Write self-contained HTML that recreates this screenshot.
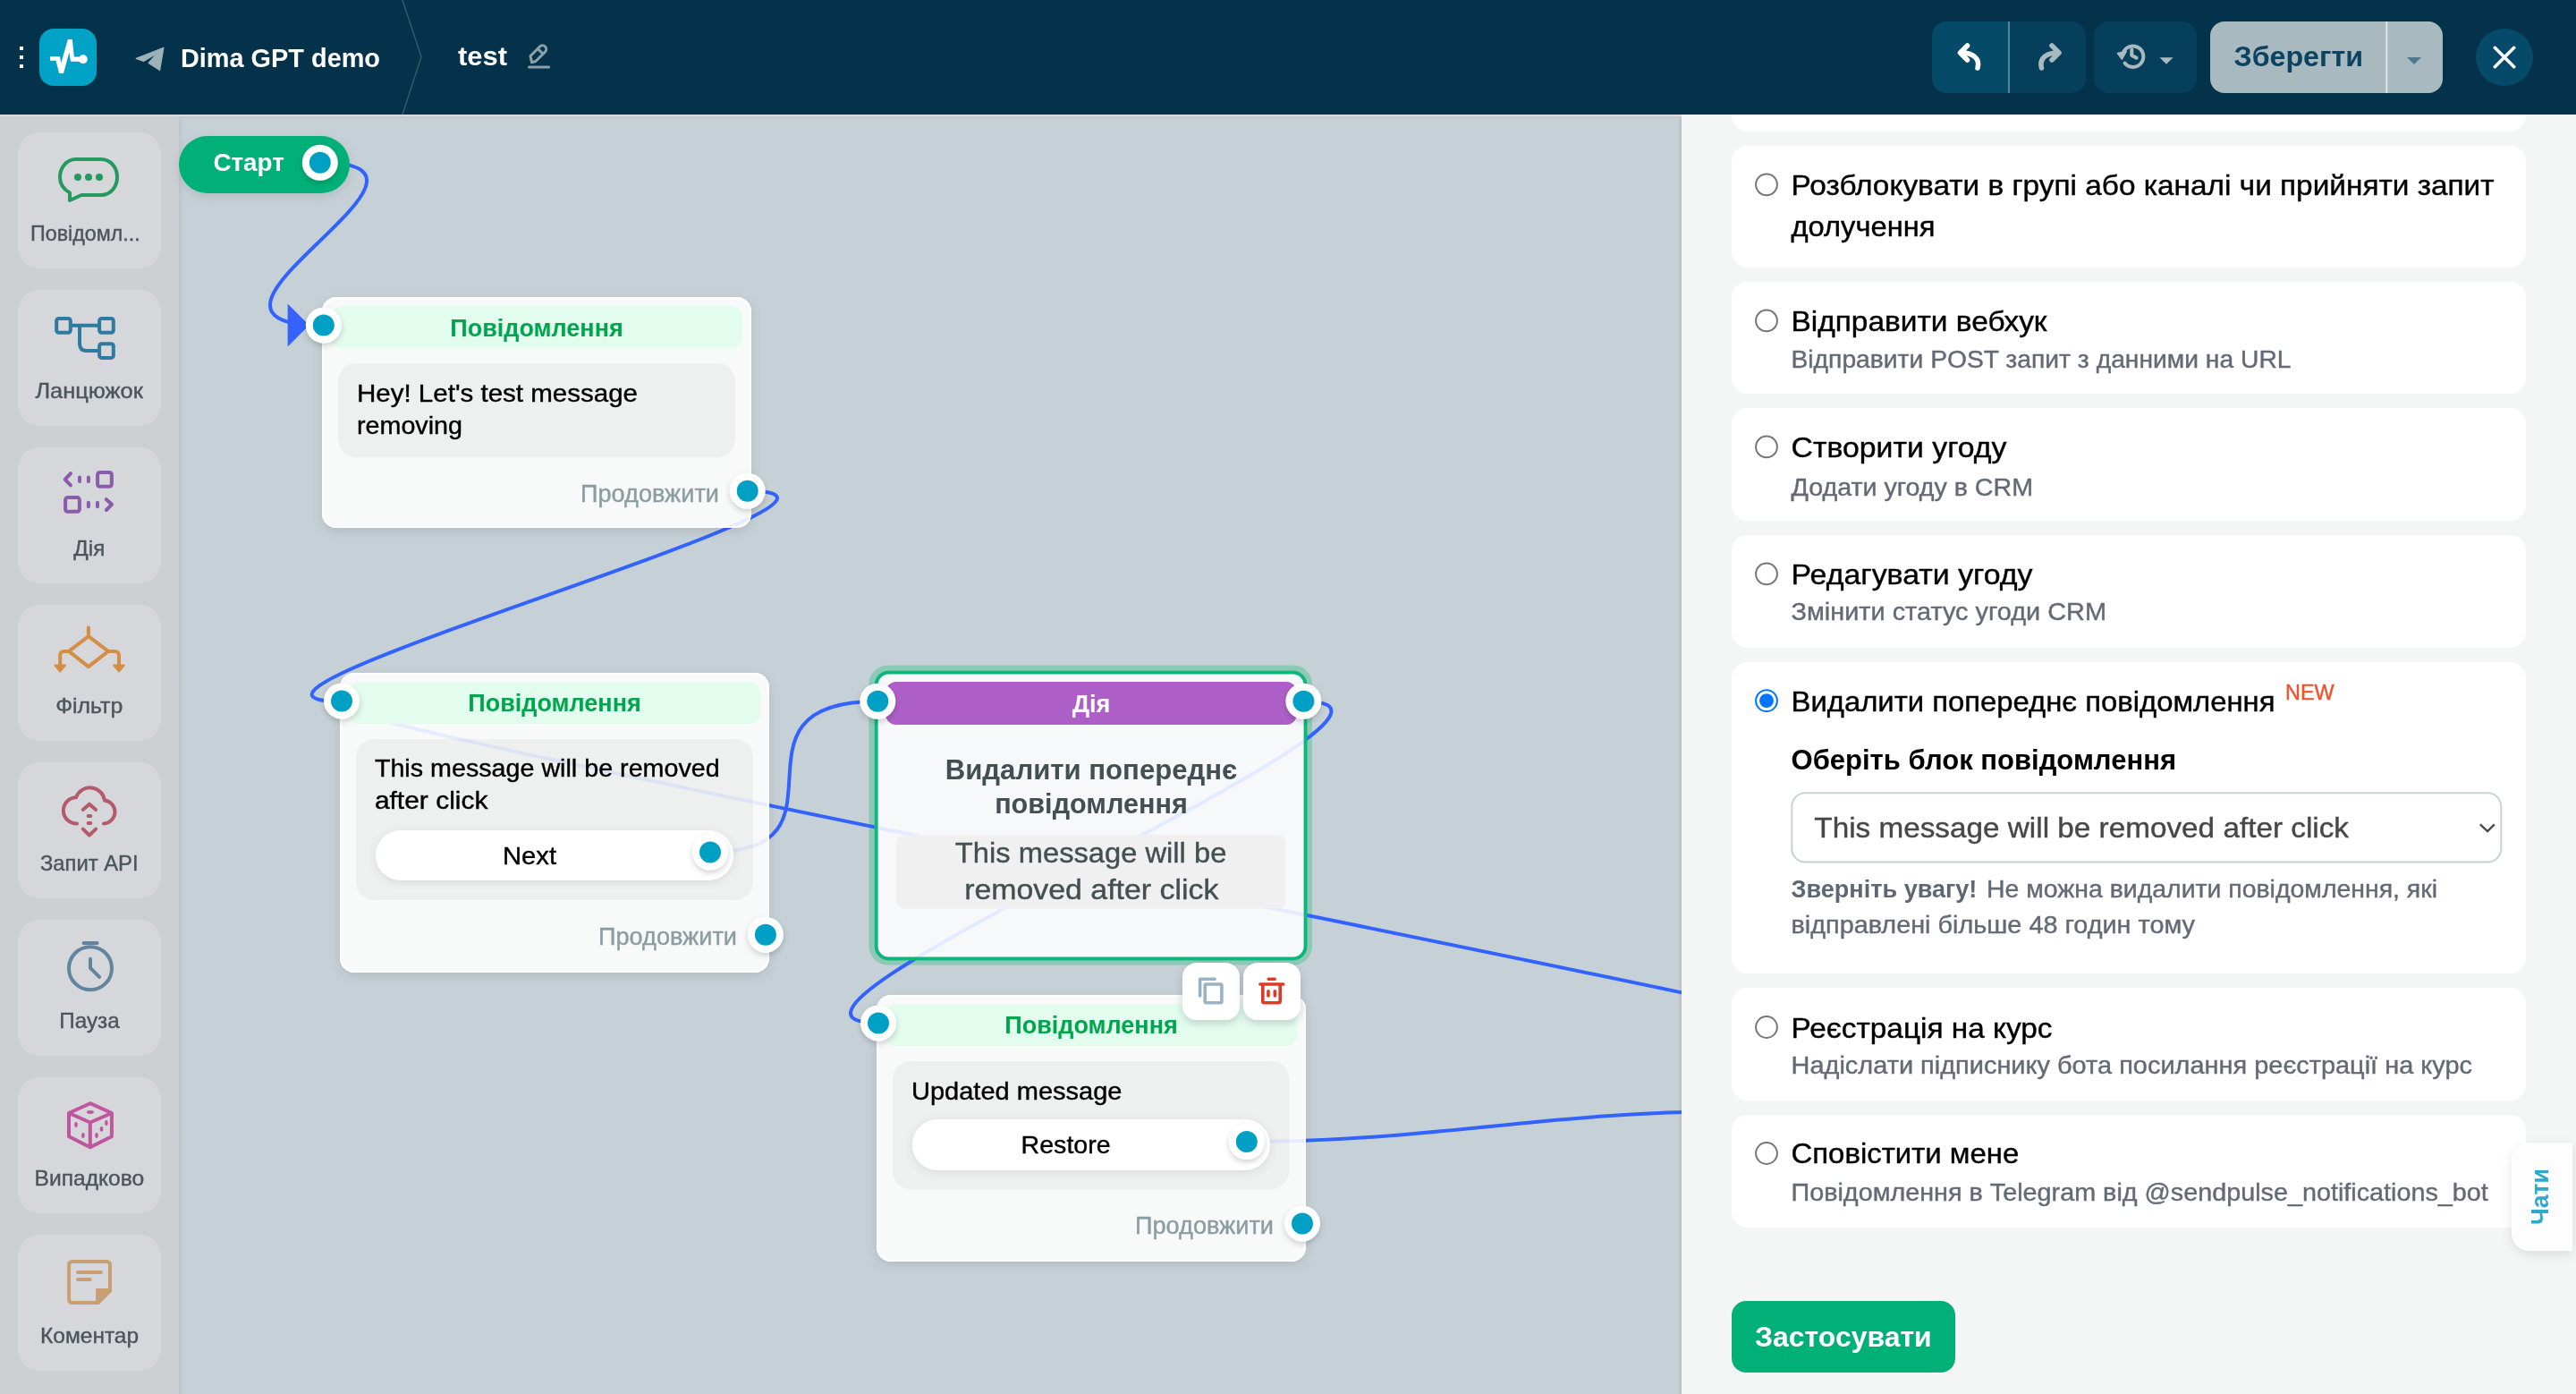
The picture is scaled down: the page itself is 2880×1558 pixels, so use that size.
<!DOCTYPE html><html><head><meta charset="utf-8"><title>Flow</title>
<style>html,body{margin:0;padding:0;width:2880px;height:1558px;overflow:hidden;background:#c6d1d7;}svg{display:block;will-change:transform}text{font-family:"Liberation Sans", sans-serif;}</style></head><body>
<svg width="2880" height="1558" viewBox="0 0 2880 1558">
<defs>
<filter id="sh" x="-20%" y="-20%" width="140%" height="150%"><feDropShadow dx="0" dy="4" stdDeviation="6" flood-color="#000" flood-opacity="0.10"/></filter>
<filter id="shp" x="-50%" y="-50%" width="200%" height="200%"><feDropShadow dx="0" dy="3" stdDeviation="3" flood-color="#000" flood-opacity="0.18"/></filter>
<filter id="shb" x="-30%" y="-30%" width="160%" height="160%"><feDropShadow dx="0" dy="2" stdDeviation="5" flood-color="#000" flood-opacity="0.10"/></filter>
<filter id="shs" x="-20%" y="-20%" width="140%" height="160%"><feDropShadow dx="0" dy="4" stdDeviation="5" flood-color="#000" flood-opacity="0.16"/></filter>
<filter id="blur6" x="-20%" y="-20%" width="140%" height="150%"><feGaussianBlur stdDeviation="6"/></filter>
<filter id="blur4" x="-20%" y="-20%" width="140%" height="150%"><feGaussianBlur stdDeviation="4"/></filter>
<linearGradient id="pls" x1="0" x2="1" y1="0" y2="0"><stop offset="0" stop-color="#000" stop-opacity="0"/><stop offset="1" stop-color="#000" stop-opacity="0.09"/></linearGradient>
<linearGradient id="sbs" x1="0" x2="1" y1="0" y2="0"><stop offset="0" stop-color="#000" stop-opacity="0.05"/><stop offset="1" stop-color="#000" stop-opacity="0"/></linearGradient>
</defs>
<rect x="200" y="128" width="1680" height="1430" fill="#c6d1d7"/>
<rect x="0" y="128" width="200" height="1430" fill="#cdd0d3"/>
<rect x="200" y="128" width="6" height="1430" fill="url(#sbs)"/>
<rect x="1876" y="128" width="4" height="1430" fill="url(#pls)"/>
<rect x="0" y="128" width="1880" height="2" fill="#dcdcde"/>
<rect x="200" y="130" width="1680" height="2" fill="#c9c8cc"/>
<rect x="20" y="148" width="160" height="152" rx="24" fill="#d5d7da"/>
<text x="34" y="269" font-size="24" fill="#4c555b" stroke="#4c555b" stroke-width="0.4" textLength="122.6" lengthAdjust="spacingAndGlyphs">Повідомл...</text>
<rect x="20" y="324" width="160" height="152" rx="24" fill="#d5d7da"/>
<text x="39.4" y="445" font-size="24" fill="#4c555b" stroke="#4c555b" stroke-width="0.4" textLength="120.4" lengthAdjust="spacingAndGlyphs">Ланцюжок</text>
<rect x="20" y="500" width="160" height="152" rx="24" fill="#d5d7da"/>
<text x="82.3" y="621" font-size="24" fill="#4c555b" stroke="#4c555b" stroke-width="0.4" textLength="35" lengthAdjust="spacingAndGlyphs">Дія</text>
<rect x="20" y="676" width="160" height="152" rx="24" fill="#d5d7da"/>
<text x="62.2" y="797" font-size="24" fill="#4c555b" stroke="#4c555b" stroke-width="0.4" textLength="75.1" lengthAdjust="spacingAndGlyphs">Фільтр</text>
<rect x="20" y="852" width="160" height="152" rx="24" fill="#d5d7da"/>
<text x="45" y="973" font-size="24" fill="#4c555b" stroke="#4c555b" stroke-width="0.4" textLength="109.6" lengthAdjust="spacingAndGlyphs">Запит API</text>
<rect x="20" y="1028" width="160" height="152" rx="24" fill="#d5d7da"/>
<text x="66.3" y="1149" font-size="24" fill="#4c555b" stroke="#4c555b" stroke-width="0.4" textLength="67.4" lengthAdjust="spacingAndGlyphs">Пауза</text>
<rect x="20" y="1204" width="160" height="152" rx="24" fill="#d5d7da"/>
<text x="38.5" y="1325" font-size="24" fill="#4c555b" stroke="#4c555b" stroke-width="0.4" textLength="122.8" lengthAdjust="spacingAndGlyphs">Випадково</text>
<rect x="20" y="1380" width="160" height="152" rx="24" fill="#d5d7da"/>
<text x="45.1" y="1501" font-size="24" fill="#4c555b" stroke="#4c555b" stroke-width="0.4" textLength="110" lengthAdjust="spacingAndGlyphs">Коментар</text>
<g fill="none" stroke-width="4" stroke-linecap="round" stroke-linejoin="round">
<g stroke="#25995f"><path d="M84.5,178 H113 C123.5,178 131,187 131,198 C131,209 123.5,218 113,218 H91 L78,224 V215.5 C71,211.5 67,205 67,198 C67,187 75,178 84.5,178 Z"/></g>
<g fill="#25995f"><circle cx="87" cy="198" r="4"/><circle cx="99" cy="198" r="4"/><circle cx="111" cy="198" r="4"/></g>
<g stroke="#2e7aa0"><rect x="63.2" y="356" width="15.6" height="15.8" rx="2.5"/><rect x="111.1" y="356" width="15.7" height="15.8" rx="2.5"/><rect x="111.1" y="384.2" width="15.7" height="15.7" rx="2.5"/><path d="M80.7,363.8 H109.1 M89,363.8 V384 Q89,392 97,392 H109.1"/></g>
<g stroke="#8a5ca9"><path d="M79,529.2 L72.7,535.8 L79,542.4 M89,533.5 V538.1 M98.9,533.5 V538.1 M98.9,561.7 V566.3 M109,561.7 V566.3 M118.9,558.2 L125.1,563.7 L118.9,570"/><rect x="109.1" y="528" width="15.7" height="15.7" rx="2.5"/><rect x="73.1" y="556.1" width="15.8" height="15.7" rx="2.5"/></g>
<g stroke="#d48e45"><path d="M98.9,701.5 V711.2 M98.9,711.2 L77,727.9 L98.9,745.1 L121,727.9 Z M77,727.9 H72 Q67.2,727.9 67.2,733 V743 M121,727.9 H128 Q133,727.9 133,733 V743"/></g>
<g fill="#d48e45" stroke="#d48e45" stroke-width="2"><path d="M61.5,743.5 H73 L67.2,750.5 Z"/><path d="M127.2,743.5 H138.8 L133,750.5 Z"/></g>
<g stroke="#b45a6a"><path d="M86,920.5 A14.5,14.5 0 0 1 85,891.2 A16.6,16.6 0 0 1 117,894.6 A13,13 0 0 1 116,920.5"/><path d="M92.8,905 L99.9,898.7 L107.1,905 M92.8,926.6 L99.9,933.5 L107.1,926.6 M98.6,912 H101.3 M98.6,920 H101.3"/></g>
<g stroke="#62849e"><circle cx="101" cy="1082.2" r="24"/><path d="M93.5,1053.9 H108.6 M101,1071.7 V1081.8 L111.1,1091.8"/></g>
<g stroke="#c2559f"><path d="M100.8,1233.2 L77,1244 V1270.2 L100.8,1282.3 L124.9,1270.2 V1244 Z M77,1244 L100.8,1254.5 L124.9,1244 M100.8,1254.5 V1282.3"/></g>
<g fill="#c2559f"><ellipse cx="100.9" cy="1243" rx="4" ry="1.9"/><ellipse cx="85" cy="1256.9" rx="1.8" ry="2.9"/><ellipse cx="92.9" cy="1269" rx="1.8" ry="2.9"/><ellipse cx="118.9" cy="1255" rx="1.8" ry="2.9"/><ellipse cx="113.5" cy="1261.8" rx="1.8" ry="2.9"/><ellipse cx="108" cy="1269" rx="1.8" ry="2.9"/></g>
<g stroke="#c99f71"><path d="M81,1409.9 H119 Q123,1409.9 123,1413.9 V1442.5 L109,1456 H81 Q77.1,1456 77.1,1452 V1413.9 Q77.1,1409.9 81,1409.9 Z M87,1422 H112.9 M87,1430 H100.8"/></g>
<path d="M107.1,1440 H124.9 V1443.5 L110.5,1457.9 H107.1 Z" fill="#c99f71"/>
</g>
<path fill-rule="evenodd" fill="#8ccab6" d="M992.5,743.5 H1446 A21,21 0 0 1 1467,764.5 V1057.5 A21,21 0 0 1 1446,1078.5 H992.5 A21,21 0 0 1 971.5,1057.5 V764.5 A21,21 0 0 1 992.5,743.5 Z M993.5,749.5 A16,16 0 0 0 977.5,765.5 V1057.5 A16,16 0 0 0 993.5,1073.5 H1445.8 A16,16 0 0 0 1461.8,1057.5 V765.5 A16,16 0 0 0 1445.8,749.5 Z"/>
<g fill="none" stroke="#3363ff" stroke-width="4"><path d="M357.8,181.8 C542.8,181.8 161.8,363.5 361.8,363.5"/><path d="M835.7,548.7 C1047.7,548.7 170,784 382,784"/><path d="M794,952.5 C965,952.5 796.7,783.7 981.3,783.7"/><path d="M2212.6,1195.7 C2412.6,1195.7 182,783.4 382,783.4"/><path d="M1457.4,783.7 C1662.4,783.7 777,1143.4 982,1143.4"/><path d="M1393.8,1276 C1593.8,1276 1732.7,1242.3 1932.7,1242.3"/></g>
<path d="M321.6,339.5 L321.6,387.5 L345.6,363.5 Z" fill="#3663ff"/>
<rect x="200" y="152" width="191" height="64" rx="32" fill="#00b077" filter="url(#sh)"/>
<text x="238.4" y="191.1" font-size="28" fill="#fff" font-weight="bold" textLength="79.4" lengthAdjust="spacingAndGlyphs">Старт</text>
<circle cx="357.8" cy="181.8" r="20" fill="#fff" filter="url(#shp)"/>
<circle cx="357.8" cy="181.8" r="12" fill="#00a0c4"/>
<mask id="m1" maskUnits="userSpaceOnUse" x="0" y="0" width="2880" height="1558"><rect width="2880" height="1558" fill="#fff"/><rect x="360" y="332" width="480" height="258" rx="16" fill="#000"/></mask>
<g mask="url(#m1)"><rect x="360" y="336" width="480" height="258" rx="16" fill="#000" fill-opacity="0.1" filter="url(#blur6)"/></g>
<rect x="360" y="332" width="480" height="258" rx="16" fill="rgb(255,255,254)" fill-opacity="0.88"/>
<rect x="361" y="333" width="478" height="256" rx="15" fill="none" stroke="#fff" stroke-width="2"/>
<rect x="370" y="342" width="460" height="47" rx="12" fill="#e2fcee"/>
<text x="600" y="375.5" font-size="28" fill="#00a64e" font-weight="bold" text-anchor="middle" textLength="193.5" lengthAdjust="spacingAndGlyphs">Повідомлення</text>
<rect x="378" y="406" width="444" height="105" rx="20" fill="#000" fill-opacity="0.04"/>
<text x="399" y="448.6" font-size="28" fill="#000" stroke="#000" stroke-width="0.4" textLength="314" lengthAdjust="spacingAndGlyphs">Hey! Let's test message</text>
<text x="399" y="484.7" font-size="28" fill="#000" stroke="#000" stroke-width="0.4" textLength="118" lengthAdjust="spacingAndGlyphs">removing</text>
<text x="649" y="560.5" font-size="27" fill="#8b9da1" stroke="#8b9da1" stroke-width="0.4" textLength="155" lengthAdjust="spacingAndGlyphs">Продовжити</text>
<circle cx="361.8" cy="363.6" r="20" fill="#fff" filter="url(#shp)"/>
<circle cx="361.8" cy="363.6" r="12" fill="#00a0c4"/>
<circle cx="835.7" cy="548.7" r="20" fill="#fff" filter="url(#shp)"/>
<circle cx="835.7" cy="548.7" r="12" fill="#00a0c4"/>
<mask id="m2" maskUnits="userSpaceOnUse" x="0" y="0" width="2880" height="1558"><rect width="2880" height="1558" fill="#fff"/><rect x="380" y="752" width="480" height="335" rx="16" fill="#000"/></mask>
<g mask="url(#m2)"><rect x="380" y="756" width="480" height="335" rx="16" fill="#000" fill-opacity="0.1" filter="url(#blur6)"/></g>
<rect x="380" y="752" width="480" height="335" rx="16" fill="rgb(255,255,254)" fill-opacity="0.88"/>
<rect x="381" y="753" width="478" height="333" rx="15" fill="none" stroke="#fff" stroke-width="2"/>
<rect x="390" y="762" width="460" height="47" rx="12" fill="#e2fcee"/>
<text x="620" y="794.8" font-size="28" fill="#00a64e" font-weight="bold" text-anchor="middle" textLength="193.5" lengthAdjust="spacingAndGlyphs">Повідомлення</text>
<rect x="398" y="826" width="444" height="180" rx="20" fill="#000" fill-opacity="0.04"/>
<text x="418.9" y="868.4" font-size="28" fill="#000" stroke="#000" stroke-width="0.4" textLength="385.8" lengthAdjust="spacingAndGlyphs">This message will be removed</text>
<text x="418.9" y="904" font-size="28" fill="#000" stroke="#000" stroke-width="0.4" textLength="126.5" lengthAdjust="spacingAndGlyphs">after click</text>
<rect x="420" y="928" width="400" height="56" rx="28" fill="#fff" filter="url(#shb)"/>
<text x="562" y="966" font-size="28" fill="#000" stroke="#000" stroke-width="0.4" textLength="60" lengthAdjust="spacingAndGlyphs">Next</text>
<text x="669" y="1055.6" font-size="27" fill="#8b9da1" stroke="#8b9da1" stroke-width="0.4" textLength="155" lengthAdjust="spacingAndGlyphs">Продовжити</text>
<circle cx="794" cy="952.5" r="20" fill="#fff" filter="url(#shp)"/>
<circle cx="794" cy="952.5" r="12" fill="#00a0c4"/>
<circle cx="382" cy="783.4" r="20" fill="#fff" filter="url(#shp)"/>
<circle cx="382" cy="783.4" r="12" fill="#00a0c4"/>
<circle cx="855.9" cy="1044.7" r="20" fill="#fff" filter="url(#shp)"/>
<circle cx="855.9" cy="1044.7" r="12" fill="#00a0c4"/>
<rect x="979.6" y="751.5" width="480" height="320" rx="14" fill="#fdfdff" fill-opacity="0.88" stroke="#10b57c" stroke-width="4"/>
<rect x="990" y="762" width="460" height="48" rx="12" fill="#ad5fc7"/>
<text x="1220" y="795.9" font-size="27" fill="#fff" font-weight="bold" text-anchor="middle" textLength="42.7" lengthAdjust="spacingAndGlyphs">Дія</text>
<text x="1220" y="870.8" font-size="32" fill="#435052" font-weight="bold" text-anchor="middle" textLength="326.5" lengthAdjust="spacingAndGlyphs">Видалити попереднє</text>
<text x="1220" y="908.8" font-size="32" fill="#435052" font-weight="bold" text-anchor="middle" textLength="215.7" lengthAdjust="spacingAndGlyphs">повідомлення</text>
<rect x="1002" y="933.3" width="435.3" height="82.2" rx="8" fill="#f0f0f0"/>
<text x="1219.6" y="963.8" font-size="32" fill="#434f50" stroke="#434f50" stroke-width="0.4" text-anchor="middle" textLength="303.5" lengthAdjust="spacingAndGlyphs">This message will be</text>
<text x="1220.3" y="1005" font-size="32" fill="#434f50" stroke="#434f50" stroke-width="0.4" text-anchor="middle" textLength="284.2" lengthAdjust="spacingAndGlyphs">removed after click</text>
<circle cx="981.3" cy="783.7" r="20" fill="#fff" filter="url(#shp)"/>
<circle cx="981.3" cy="783.7" r="12" fill="#00a0c4"/>
<circle cx="1457.4" cy="783.7" r="20" fill="#fff" filter="url(#shp)"/>
<circle cx="1457.4" cy="783.7" r="12" fill="#00a0c4"/>
<mask id="m3" maskUnits="userSpaceOnUse" x="0" y="0" width="2880" height="1558"><rect width="2880" height="1558" fill="#fff"/><rect x="980" y="1112" width="480" height="298" rx="16" fill="#000"/></mask>
<g mask="url(#m3)"><rect x="980" y="1116" width="480" height="298" rx="16" fill="#000" fill-opacity="0.1" filter="url(#blur6)"/></g>
<rect x="980" y="1112" width="480" height="298" rx="16" fill="rgb(255,255,254)" fill-opacity="0.88"/>
<rect x="981" y="1113" width="478" height="296" rx="15" fill="none" stroke="#fff" stroke-width="2"/>
<rect x="990" y="1122" width="460" height="47" rx="12" fill="#e2fcee"/>
<text x="1220" y="1155" font-size="28" fill="#00a64e" font-weight="bold" text-anchor="middle" textLength="193.5" lengthAdjust="spacingAndGlyphs">Повідомлення</text>
<rect x="998" y="1186" width="443.3" height="143.2" rx="20" fill="#000" fill-opacity="0.04"/>
<text x="1019" y="1228.7" font-size="28" fill="#000" stroke="#000" stroke-width="0.4" textLength="235.5" lengthAdjust="spacingAndGlyphs">Updated message</text>
<rect x="1020" y="1251" width="400" height="57" rx="28.5" fill="#fff" filter="url(#shb)"/>
<text x="1141.6" y="1288.6" font-size="28" fill="#000" stroke="#000" stroke-width="0.4" textLength="100" lengthAdjust="spacingAndGlyphs">Restore</text>
<text x="1269" y="1379" font-size="27" fill="#8b9da1" stroke="#8b9da1" stroke-width="0.4" textLength="155" lengthAdjust="spacingAndGlyphs">Продовжити</text>
<circle cx="1393.8" cy="1276" r="20" fill="#fff" filter="url(#shp)"/>
<circle cx="1393.8" cy="1276" r="12" fill="#00a0c4"/>
<circle cx="982" cy="1143.4" r="20" fill="#fff" filter="url(#shp)"/>
<circle cx="982" cy="1143.4" r="12" fill="#00a0c4"/>
<circle cx="1456" cy="1367.4" r="20" fill="#fff" filter="url(#shp)"/>
<circle cx="1456" cy="1367.4" r="12" fill="#00a0c4"/>
<rect x="1322" y="1076" width="64" height="64" rx="16" fill="#fff" filter="url(#shs)"/>
<rect x="1390" y="1076" width="64" height="64" rx="16" fill="#fff" filter="url(#shs)"/>
<g fill="none" stroke-width="3.6" stroke-linecap="round" stroke-linejoin="round"><path stroke="#9ab2c4" d="M1341.6,1113 V1094.3 H1358.2"/><rect stroke="#9ab2c4" x="1347.2" y="1100" width="18.7" height="20.7" rx="1.5"/><path stroke="#e23a22" d="M1418.2,1094.3 H1425.2 M1408.9,1100 H1434.7 M1411.8,1100 V1119 Q1411.8,1120.8 1413.6,1120.8 H1429.4 Q1431.2,1120.8 1431.2,1119 V1100 M1418,1107.9 V1113 M1425.3,1107.9 V1113"/></g>
<rect x="1880" y="128" width="1000" height="1430" fill="#f4f6f5"/>
<rect x="1936" y="90" width="888" height="57" rx="18" fill="#fff"/>
<rect x="1936" y="163" width="888" height="136" rx="18" fill="#fff"/>
<circle cx="1975" cy="206.3" r="11.9" fill="#fff" stroke="#767676" stroke-width="2"/>
<text x="2002.5" y="217.9" font-size="32" fill="#000" stroke="#000" stroke-width="0.4" textLength="786" lengthAdjust="spacingAndGlyphs">Розблокувати в групі або каналі чи прийняти запит</text>
<text x="2002.5" y="263.9" font-size="32" fill="#000" stroke="#000" stroke-width="0.4" textLength="161" lengthAdjust="spacingAndGlyphs">долучення</text>
<rect x="1936" y="315" width="888" height="125" rx="18" fill="#fff"/>
<circle cx="1975" cy="358.4" r="11.9" fill="#fff" stroke="#767676" stroke-width="2"/>
<text x="2002.5" y="369.5" font-size="32" fill="#000" stroke="#000" stroke-width="0.4" textLength="286" lengthAdjust="spacingAndGlyphs">Відправити вебхук</text>
<text x="2002.5" y="411" font-size="28" fill="#646a75" stroke="#646a75" stroke-width="0.4" textLength="559" lengthAdjust="spacingAndGlyphs">Відправити POST запит з данними на URL</text>
<rect x="1936" y="456" width="888" height="126" rx="18" fill="#fff"/>
<circle cx="1975" cy="499.4" r="11.9" fill="#fff" stroke="#767676" stroke-width="2"/>
<text x="2002.5" y="511.3" font-size="32" fill="#000" stroke="#000" stroke-width="0.4" textLength="241" lengthAdjust="spacingAndGlyphs">Створити угоду</text>
<text x="2002.5" y="553.6" font-size="28" fill="#646a75" stroke="#646a75" stroke-width="0.4" textLength="270.5" lengthAdjust="spacingAndGlyphs">Додати угоду в CRM</text>
<rect x="1936" y="598" width="888" height="126" rx="18" fill="#fff"/>
<circle cx="1975" cy="641.4" r="11.9" fill="#fff" stroke="#767676" stroke-width="2"/>
<text x="2002.5" y="653.4" font-size="32" fill="#000" stroke="#000" stroke-width="0.4" textLength="270" lengthAdjust="spacingAndGlyphs">Редагувати угоду</text>
<text x="2002.5" y="693.4" font-size="28" fill="#646a75" stroke="#646a75" stroke-width="0.4" textLength="352.5" lengthAdjust="spacingAndGlyphs">Змінити статус угоди CRM</text>
<rect x="1936" y="740" width="888" height="348" rx="18" fill="#fff"/>
<circle cx="1975" cy="783.2" r="11.9" fill="#fff" stroke="#0075ff" stroke-width="2"/>
<circle cx="1975" cy="783.2" r="7.9" fill="#0075ff"/>
<text x="2002.5" y="795.2" font-size="32" fill="#000" stroke="#000" stroke-width="0.4" textLength="541" lengthAdjust="spacingAndGlyphs">Видалити попереднє повідомлення</text>
<text x="2555" y="782" font-size="23" fill="#f0532b" stroke="#f0532b" stroke-width="0.4" textLength="54.6" lengthAdjust="spacingAndGlyphs">NEW</text>
<text x="2002.5" y="859.8" font-size="31" fill="#000" font-weight="bold" textLength="430.5" lengthAdjust="spacingAndGlyphs">Оберіть блок повідомлення</text>
<rect x="2003.3" y="886.3" width="793" height="77.2" rx="15" fill="#fff" stroke="#cad3d2" stroke-width="2"/>
<text x="2028.3" y="935.8" font-size="32" fill="#474747" stroke="#474747" stroke-width="0.4" textLength="597.7" lengthAdjust="spacingAndGlyphs">This message will be removed after click</text>
<path d="M2772.9,921.3 L2781,929.1 L2788.8,921.3" fill="none" stroke="#4a4a4a" stroke-width="2.4"/>
<text x="2002.5" y="1003" font-size="28" fill="#5f6872" font-weight="bold" textLength="207.9" lengthAdjust="spacingAndGlyphs">Зверніть увагу!</text>
<text x="2221" y="1003" font-size="28" fill="#646a75" stroke="#646a75" stroke-width="0.4" textLength="504" lengthAdjust="spacingAndGlyphs">Не можна видалити повідомлення, які</text>
<text x="2002.5" y="1042.7" font-size="28" fill="#646a75" stroke="#646a75" stroke-width="0.4" textLength="451.5" lengthAdjust="spacingAndGlyphs">відправлені більше 48 годин тому</text>
<rect x="1936" y="1104" width="888" height="126" rx="18" fill="#fff"/>
<circle cx="1975" cy="1148" r="11.9" fill="#fff" stroke="#767676" stroke-width="2"/>
<text x="2002.5" y="1160.4" font-size="32" fill="#000" stroke="#000" stroke-width="0.4" textLength="292" lengthAdjust="spacingAndGlyphs">Реєстрація на курс</text>
<text x="2002.5" y="1200" font-size="28" fill="#646a75" stroke="#646a75" stroke-width="0.4" textLength="761.5" lengthAdjust="spacingAndGlyphs">Надіслати підписнику бота посилання реєстрації на курс</text>
<rect x="1936" y="1246" width="888" height="126" rx="18" fill="#fff"/>
<circle cx="1975" cy="1289" r="11.9" fill="#fff" stroke="#767676" stroke-width="2"/>
<text x="2002.5" y="1300" font-size="32" fill="#000" stroke="#000" stroke-width="0.4" textLength="254.7" lengthAdjust="spacingAndGlyphs">Сповістити мене</text>
<text x="2002.5" y="1342" font-size="28" fill="#646a75" stroke="#646a75" stroke-width="0.4" textLength="779.3" lengthAdjust="spacingAndGlyphs">Повідомлення в Telegram від @sendpulse_notifications_bot</text>
<path d="M2828,1277 H2876 V1398 H2828 A20,20 0 0 1 2808,1378 V1297 A20,20 0 0 1 2828,1277 Z" fill="#fdfdfd" filter="url(#sh)"/>
<text transform="translate(2849,1369) rotate(-90)" x="0" y="0" font-size="27" font-weight="bold" fill="#2ea9cc" textLength="63" lengthAdjust="spacingAndGlyphs">Чати</text>
<rect x="1936" y="1454" width="250" height="80" rx="16" fill="#00b077"/>
<text x="1962" y="1504.5" font-size="32" fill="#fff" font-weight="bold" textLength="197.7" lengthAdjust="spacingAndGlyphs">Застосувати</text>
<rect x="0" y="0" width="2880" height="128" fill="#04324a"/>
<g fill="#fff"><rect x="22" y="52" width="4" height="4"/><rect x="22" y="62" width="4" height="4"/><rect x="22" y="72" width="4" height="4"/></g>
<rect x="44" y="32" width="64" height="64" rx="16" fill="#00a2c5"/>
<polygon fill="#fff" points="56.0,63.1 66.9,63.1 68.3,70.4 75.9,44.0 80.8,44.0 82.9,63.6 89.1,63.6 89.1,68.8 79.0,68.8 77.4,58.5 71.0,82.0 66.1,82.0 62.5,67.8 56.0,67.8"/>
<circle cx="92.9" cy="66.2" r="4.9" fill="#fff"/>
<path d="M152.2,65.4 L182.9,53.3 L178.6,78.6 L166.1,70.4 L175.7,59.4 L160.5,68.5 Z" fill="#9db1b9" stroke="#9db1b9" stroke-width="1.2" stroke-linejoin="round"/>
<text x="202" y="75" font-size="29.5" fill="#fff" font-weight="bold" textLength="223" lengthAdjust="spacingAndGlyphs">Dima GPT demo</text>
<path d="M450,0 L471,63.5 L450,128" fill="none" stroke="#34576a" stroke-width="1.5"/>
<text x="512" y="73" font-size="30" fill="#fff" font-weight="bold" textLength="55" lengthAdjust="spacingAndGlyphs">test</text>
<g fill="none" stroke="#8aa0ab" stroke-width="3" stroke-linecap="round" stroke-linejoin="round"><path d="M594.5,69.8 L593,62.6 L603.6,52 A4.1,4.1 0 0 1 609.5,57.9 L598.9,68.5 Z M601.2,54.4 L607.1,60.3"/><path d="M591.5,75 H613.6"/></g>
<rect x="2160" y="24" width="172" height="80" rx="16" fill="#053f5b"/>
<path d="M2246,24 H2176 A16,16 0 0 0 2160,40 V88 A16,16 0 0 0 2176,104 H2246 Z" fill="#054b69"/>
<rect x="2245.2" y="24" width="1.6" height="80" fill="#6a95a7"/>
<g fill="none" stroke-width="5.5" stroke-linecap="round" stroke-linejoin="round"><path stroke="#fff" d="M2199.5,51 L2191.5,59 L2199.5,67 M2192,59 C2206,58.5 2214,66 2211,76"/><path stroke="#a9b9c0" d="M2294,51 L2302,59 L2294,67 M2301.5,59 C2287.5,58.5 2279.5,66 2282.5,76"/></g>
<rect x="2341" y="24" width="115" height="80" rx="16" fill="#053f5b"/>
<g fill="none" stroke="#a9b9c0" stroke-width="4" stroke-linecap="round" stroke-linejoin="round"><path d="M2375.5,70.5 A11.7,11.7 0 1 0 2373.8,58.8"/><path d="M2383.3,55.5 V62 L2388.6,64.6"/></g>
<path d="M2367.5,59.5 L2377.3,57.5 L2372.4,66.2 Z" fill="#a9b9c0" stroke="#a9b9c0" stroke-width="1.5" stroke-linejoin="round"/>
<path d="M2414.5,64.2 H2429.6 L2422,71.7 Z" fill="#a9b9c0"/>
<rect x="2471" y="24" width="260" height="80" rx="16" fill="#a9b9c0"/>
<rect x="2667.3" y="24" width="2" height="80" fill="#dfe5e7"/>
<text x="2497.5" y="74" font-size="31.5" fill="#0b4360" font-weight="bold" textLength="144.5" lengthAdjust="spacingAndGlyphs">Зберегти</text>
<path d="M2691,64 H2707 L2699,72 Z" fill="#4d7a8c"/>
<circle cx="2800" cy="64" r="32" fill="#054b69"/>
<path d="M2789.3,53.3 L2810.7,74.7 M2810.7,53.3 L2789.3,74.7" stroke="#fff" stroke-width="3.6" stroke-linecap="round"/>
</svg></body></html>
